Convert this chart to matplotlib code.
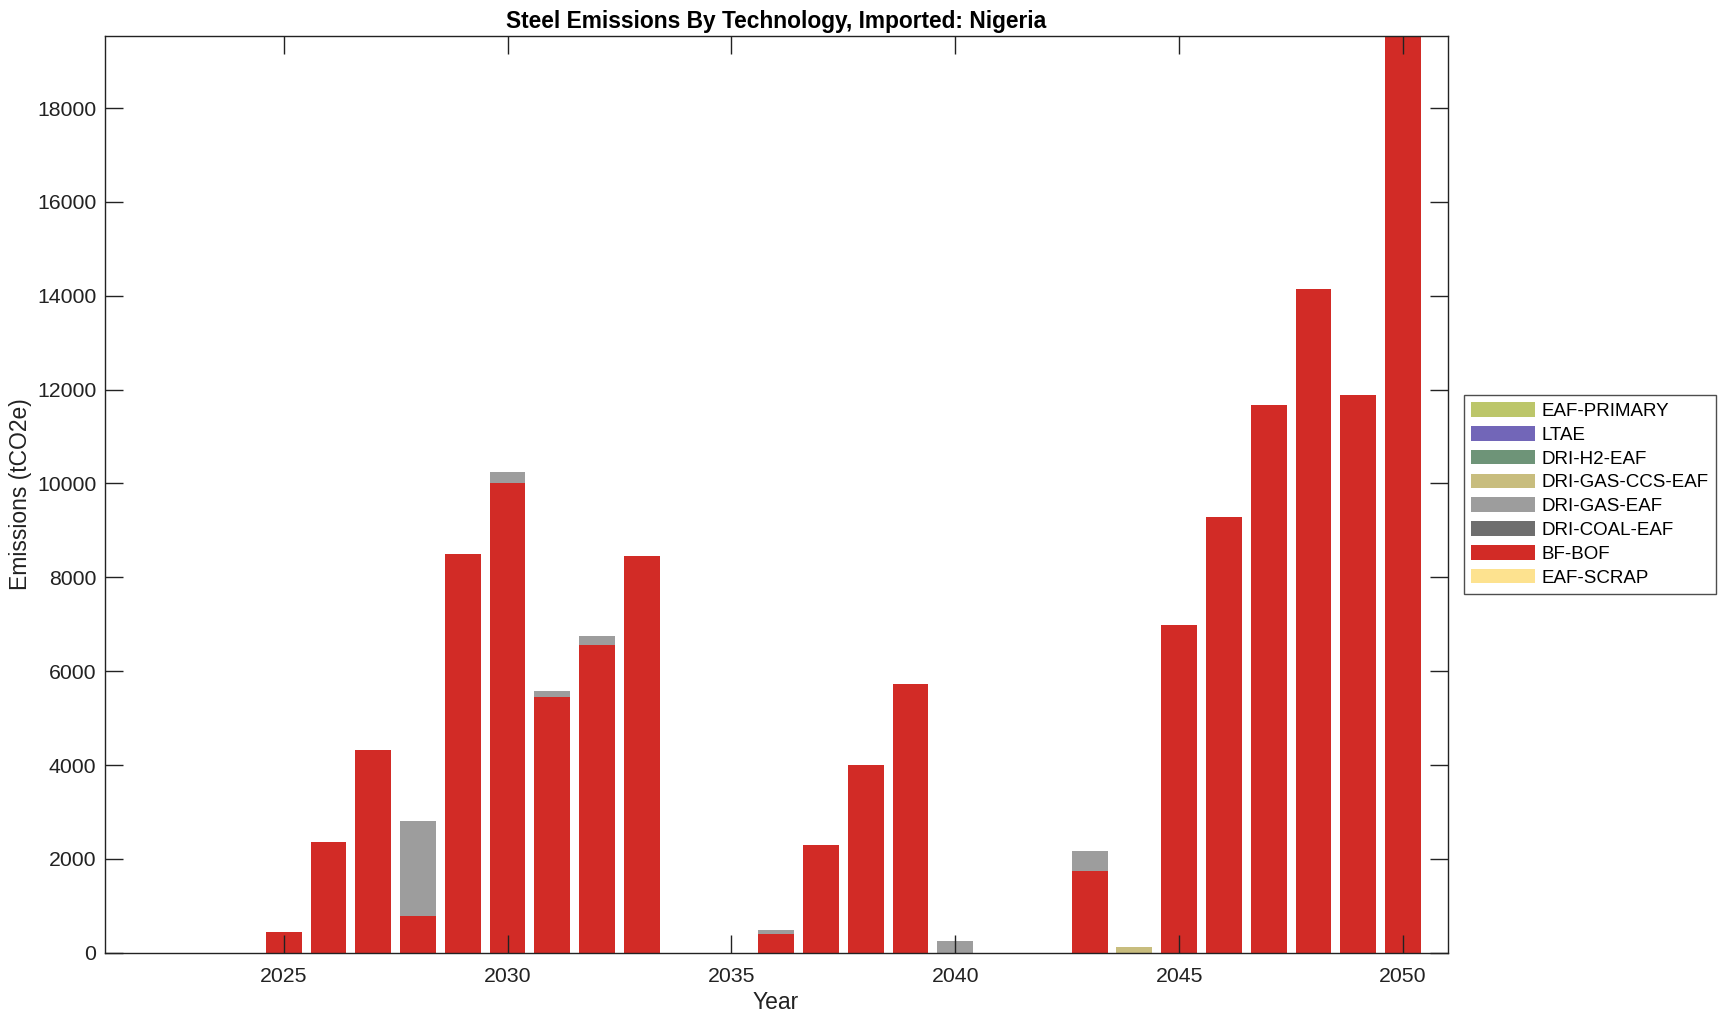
import matplotlib
matplotlib.use("Agg")
import matplotlib.pyplot as plt
import numpy as np

plt.rcParams['font.family'] = ['Liberation Sans', 'DejaVu Sans']

years = np.arange(2022, 2051)

# stacked bottom -> top (legend shows them reversed)
eaf_scrap      = [0] * 29
bf_bof         = [0, 0, 0, 450, 2350, 4330, 780, 8500, 10000, 5440, 6560, 8450, 0, 0,
                  390, 2300, 3990, 5730, 0, 0, 0, 1740, 0, 6980, 9280, 11670, 14150, 11880, 19530]
dri_coal_eaf   = [0] * 29
dri_gas_eaf    = [0, 0, 0, 0, 0, 0, 2020, 0, 240, 140, 190, 0, 0, 0,
                  100, 0, 0, 0, 240, 0, 0, 420, 0, 0, 0, 0, 0, 0, 0]
dri_gas_ccs    = [0] * 22 + [130] + [0] * 6
dri_h2_eaf     = [0] * 29
ltae           = [0] * 29
eaf_primary    = [0] * 29

series = [
    ("EAF-SCRAP", eaf_scrap, "#fde28f"),
    ("BF-BOF", bf_bof, "#d22b26"),
    ("DRI-COAL-EAF", dri_coal_eaf, "#6e6e6e"),
    ("DRI-GAS-EAF", dri_gas_eaf, "#9d9d9d"),
    ("DRI-GAS-CCS-EAF", dri_gas_ccs, "#c8bd7e"),
    ("DRI-H2-EAF", dri_h2_eaf, "#6e9478"),
    ("LTAE", ltae, "#7266b8"),
    ("EAF-PRIMARY", eaf_primary, "#bcc66a"),
]

fig = plt.figure(figsize=(17.25, 10.21), dpi=100)
ax = fig.add_axes([0.0606, 0.0669, 0.7787, 0.8975])

bottom = np.zeros(len(years))
handles = []
for name, vals, col in series:
    vals = np.array(vals, dtype=float)
    b = ax.bar(years, vals, width=0.8, bottom=bottom, color=col, edgecolor='none',
               label=name)
    handles.append(b)
    bottom += vals

ax.set_xlim(2021, 2051)
ax.set_ylim(0, 19530)
ax.set_xticks([2025, 2030, 2035, 2040, 2045, 2050])
ax.set_yticks(np.arange(0, 18001, 2000))
ax.tick_params(direction='in', length=13, width=1, top=True, right=True,
               labelsize=15.3, colors='#222222', pad=6)
ax.tick_params(axis='x', pad=10)
for s in ax.spines.values():
    s.set_linewidth(1)
    s.set_color('#222222')

ax.set_title("Steel Emissions By Technology, Imported: Nigeria", fontsize=16.4,
             fontweight='bold', pad=6)
ax.set_xlabel("Year", fontsize=16.5, color='#222222', labelpad=4)
ax.set_ylabel("Emissions (tCO2e)", fontsize=16.5, color='#222222', labelpad=3.5)

leg = fig.legend(handles[::-1], [s[0] for s in series][::-1],
                 loc='upper left', bbox_to_anchor=(0.8487, 0.6131), borderaxespad=0,
                 fontsize=13.5, frameon=True, fancybox=False, edgecolor='#222222',
                 handlelength=3.4, handleheight=0.82, labelspacing=0.32,
                 borderpad=0.38, handletextpad=0.35)
leg.get_frame().set_linewidth(1)

fig.savefig("out.png", dpi=100)
